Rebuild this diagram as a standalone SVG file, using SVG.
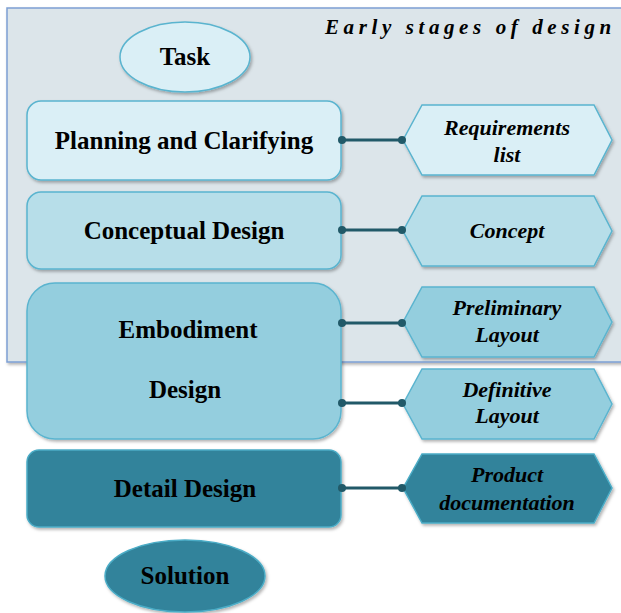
<svg xmlns="http://www.w3.org/2000/svg" width="621" height="613" viewBox="0 0 621 613">
<defs>
<filter id="sh" x="-10%" y="-10%" width="125%" height="130%">
<feDropShadow dx="1.5" dy="2" stdDeviation="1.5" flood-color="#000" flood-opacity="0.3"/>
</filter>
</defs>
<style>
.lbl{font-family:"Liberation Serif","Times New Roman",serif;font-weight:bold;font-size:25px;fill:#000;text-anchor:middle}
.it{font-family:"Liberation Serif","Times New Roman",serif;font-weight:bold;font-style:italic;font-size:22px;fill:#000;text-anchor:middle}
.box{stroke:#5ab4cf;stroke-width:1.5;filter:url(#sh)}
.c1{fill:#daeff6}
.c2{fill:#b7dee9}
.c3{fill:#94cede}
.c4{fill:#31839b;stroke:#4bacc6}
.con{stroke:#215968;stroke-width:3;fill:none}
.dot{fill:#215968}
</style>
<g id="container">
<rect x="7" y="8" width="630" height="354" fill="#dce5ea" stroke="#7d9fd3" stroke-width="1.5" filter="url(#sh)"/>
<text x="325" y="34" font-family="Liberation Serif, Times New Roman, serif" font-weight="bold" font-style="italic" font-size="21" letter-spacing="4.6" fill="#000">Early stages of design</text>
</g>
<g id="task">
<ellipse cx="185" cy="57" rx="65" ry="35" class="box c1"/>
<text x="185" y="65" class="lbl" font-size="24">Task</text>
</g>
<g id="planning">
<rect x="27" y="101" width="314" height="79" rx="14" class="box c1"/>
<text x="184" y="149" class="lbl">Planning and Clarifying</text>
</g>
<g id="conceptual">
<rect x="27" y="192" width="314" height="77" rx="14" class="box c2"/>
<text x="184" y="239" class="lbl">Conceptual Design</text>
</g>
<g id="embodiment">
<rect x="27" y="283" width="314" height="156" rx="28" class="box c3"/>
<text x="188" y="338" class="lbl">Embodiment</text>
<text x="185" y="398" class="lbl">Design</text>
</g>
<g id="detail">
<rect x="27" y="450" width="314" height="77" rx="12" class="box c4"/>
<text x="185" y="497" class="lbl">Detail Design</text>
</g>
<g id="solution">
<ellipse cx="185" cy="576" rx="80" ry="36" class="box c4"/>
<text x="185" y="584" class="lbl">Solution</text>
</g>
<g id="requirements">
<polygon points="403,140 422,105 594,105 612,140 594,175 422,175" class="box c1"/>
<text x="507" y="135" class="it">Requirements</text>
<text x="507" y="162" class="it">list</text>
</g>
<g id="concept">
<polygon points="403,231 422,196 594,196 612,231 594,266 422,266" class="box c2"/>
<text x="507" y="238" class="it">Concept</text>
</g>
<g id="preliminary">
<polygon points="403,322 422,287 594,287 612,322 594,357 422,357" class="box c3"/>
<text x="507" y="315" class="it">Preliminary</text>
<text x="507" y="342" class="it">Layout</text>
</g>
<g id="definitive">
<polygon points="403,404 422,369 594,369 612,404 594,439 422,439" class="box c3"/>
<text x="507" y="397" class="it">Definitive</text>
<text x="507" y="423" class="it">Layout</text>
</g>
<g id="product">
<polygon points="403,488 422,454 594,454 612,488 594,523 422,523" class="box c4"/>
<text x="507" y="482" class="it">Product</text>
<text x="507" y="510" class="it">documentation</text>
</g>
<g id="connectors">
<line x1="342" y1="140" x2="402" y2="140" class="con"/>
<circle cx="342" cy="140" r="4" class="dot"/><circle cx="402" cy="140" r="4" class="dot"/>
<line x1="342" y1="230" x2="402" y2="230" class="con"/>
<circle cx="342" cy="230" r="4" class="dot"/><circle cx="402" cy="230" r="4" class="dot"/>
<line x1="342" y1="323" x2="402" y2="323" class="con"/>
<circle cx="342" cy="323" r="4" class="dot"/><circle cx="402" cy="323" r="4" class="dot"/>
<line x1="342" y1="403" x2="402" y2="403" class="con"/>
<circle cx="342" cy="403" r="4" class="dot"/><circle cx="402" cy="403" r="4" class="dot"/>
<line x1="342" y1="488" x2="402" y2="488" class="con"/>
<circle cx="342" cy="488" r="4" class="dot"/><circle cx="402" cy="488" r="4" class="dot"/>
</g>
</svg>
